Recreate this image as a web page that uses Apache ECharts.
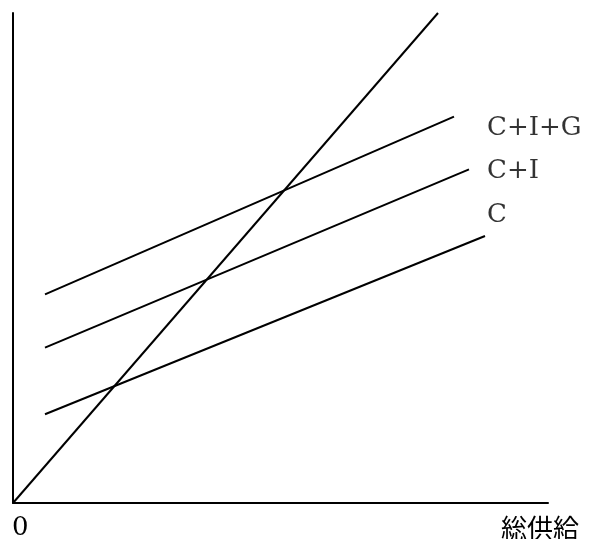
<!DOCTYPE html>
<html>
<head>
<meta charset="utf-8">
<script src="https://cdn.jsdelivr.net/npm/echarts@6/dist/echarts.min.js"></script>
<style>html,body{margin:0;padding:0;background:#fff;}#c{width:592px;height:539px;}</style>
</head>
<body>
<div id="c"></div>
<script>
// Values (arbitrary units, origin at 0)
const supplyLine = [[0, 0], [425, 490]];           // 45-degree line (総供給)
const lineC      = [[32, 88.7], [472, 267]];
const lineCI     = [[32, 155.3], [456, 333.7]];
const lineCIG    = [[32, 208.7], [441, 386.3]];
const lineNames  = ['C', 'C+I', 'C+I+G'];
const labelPos   = [[474, 288], [474, 332], [474, 375]];
const xAxisName  = '総供給';
const originLabel = '0';

const chart = echarts.init(document.getElementById('c'), null, {renderer: 'canvas'});
const lineStyle = {color: '#000', width: 2};
function lineSeries(data) {
  return {type: 'line', data: data, symbol: 'none', lineStyle: lineStyle, silent: true, animation: false};
}
chart.setOption({
  animation: false,
  grid: {left: 13, right: 44, top: 13, bottom: 36, containLabel: false},
  xAxis: {type: 'value', min: 0, max: 535,
    axisLine: {show: true, onZero: false, lineStyle: {color: '#000', width: 2}},
    axisTick: {show: false}, axisLabel: {show: false}, splitLine: {show: false}},
  yAxis: {type: 'value', min: 0, max: 490,
    axisLine: {show: true, onZero: false, lineStyle: {color: '#000', width: 2}},
    axisTick: {show: false}, axisLabel: {show: false}, splitLine: {show: false}},
  series: [
    lineSeries(supplyLine),
    lineSeries(lineC),
    lineSeries(lineCI),
    lineSeries(lineCIG),
    {type: 'scatter', symbolSize: 0, silent: true,
      data: labelPos.map((p, i) => ({value: p, name: lineNames[i]})),
      label: {show: true, position: 'right', distance: 0, formatter: p => p.name,
        color: '#000', fontFamily: 'DejaVu Serif', fontSize: 26}}
  ],
  graphic: [
    {type: 'text', left: 12, top: 515, style: {text: originLabel, fill: '#000', font: '26px "DejaVu Serif"'}},
    {type: 'text', left: 501, top: 515, style: {text: xAxisName, fill: '#000', font: '26px "Noto Sans CJK JP"'}}
  ]
});
</script>
</body>
</html>
